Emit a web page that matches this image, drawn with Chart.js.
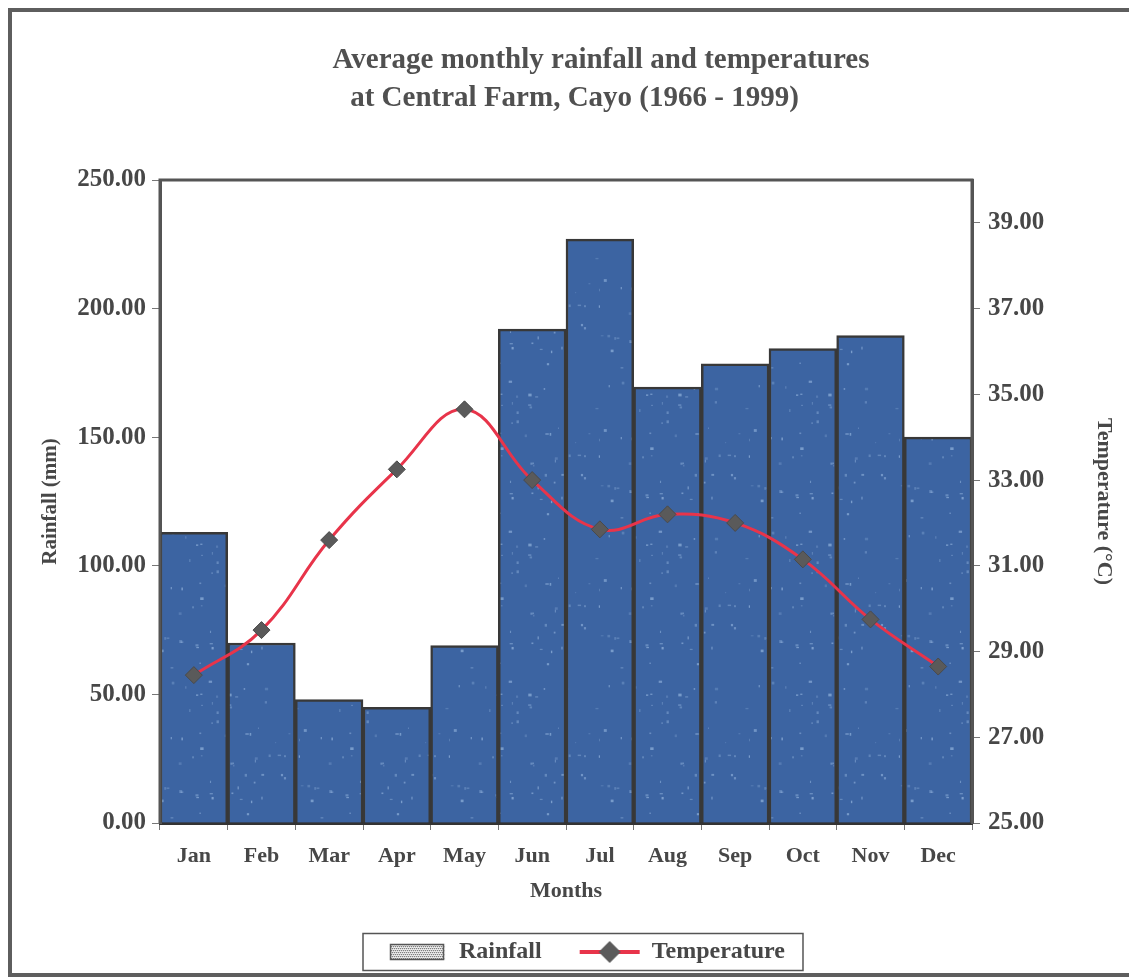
<!DOCTYPE html>
<html>
<head>
<meta charset="utf-8">
<script src="https://cdn.jsdelivr.net/npm/chart.js@4.4.0/dist/chart.umd.min.js"></script>
<style>
  html, body { margin: 0; padding: 0; background: #fff; }
  #wrap { width: 1129px; height: 980px; position: relative; }
</style>
</head>
<body>
<div id="wrap"><canvas id="c" width="1129" height="980"></canvas></div>
<script>
// Monthly climate normals, Central Farm, Cayo (1966 - 1999)
const months = ['Jan', 'Feb', 'Mar', 'Apr', 'May', 'Jun', 'Jul', 'Aug', 'Sep', 'Oct', 'Nov', 'Dec'];
const rainfall = [113, 70, 48, 45, 69, 192, 227, 169.5, 178.5, 184.5, 189.5, 150];      // mm
const temperature = [28.45, 29.5, 31.6, 33.25, 34.65, 33.0, 31.85, 32.2, 32.0, 31.15, 29.75, 28.65]; // °C
const rainTicks = [0, 50, 100, 150, 200, 250];
const tempTicks = [25, 27, 29, 31, 33, 35, 37, 39];

const serif = 'Liberation Serif, Times New Roman, serif';
const textColor = '#474747';

// speckled blue fill for the rainfall bars
function speckledFill() {
  const c = document.createElement('canvas');
  c.width = 150; c.height = 150;
  const g = c.getContext('2d');
  g.fillStyle = '#3c64a2';
  g.fillRect(0, 0, 150, 150);
  let s = 12345;
  const next = () => { s = (s * 16807) % 2147483647; return s / 2147483647; };
  for (let i = 0; i < 70; i++) {
    g.fillStyle = 'rgba(175,205,240,' + (0.2 + next() * 0.35).toFixed(2) + ')';
    g.fillRect(next() * 150, next() * 150, 1 + next() * 2.5, 1 + next() * 2);
  }
  return g.createPattern(c, 'repeat');
}

// legend symbol: hatched grey swatch
function rainSwatch() {
  const c = document.createElement('canvas');
  c.width = 60; c.height = 18;
  const g = c.getContext('2d');
  g.fillStyle = '#ffffff';
  g.fillRect(3, 1, 54, 16);
  for (let y = 1; y < 17; y += 2) {
    for (let x = 3 + (y % 4 === 1 ? 0 : 1); x < 57; x += 2) {
      g.fillStyle = '#7a7a7a';
      g.fillRect(x, y, 1.3, 1.3);
    }
  }
  g.strokeStyle = '#555';
  g.lineWidth = 1.5;
  g.strokeRect(3.5, 1.5, 53, 15);
  return c;
}

// legend symbol: red line with grey diamond
function tempSymbol() {
  const c = document.createElement('canvas');
  c.width = 64; c.height = 24;
  const g = c.getContext('2d');
  g.strokeStyle = '#e8344a';
  g.lineWidth = 4;
  g.beginPath(); g.moveTo(2, 12); g.lineTo(62, 12); g.stroke();
  g.fillStyle = '#5b5b5b';
  g.beginPath();
  g.moveTo(32, 1); g.lineTo(43, 12); g.lineTo(32, 23); g.lineTo(21, 12); g.closePath();
  g.fill();
  return c;
}

const pageFrame = {
  id: 'pageFrame',
  beforeDraw(chart) {
    const ctx = chart.ctx;
    ctx.save();
    ctx.fillStyle = '#ffffff';
    ctx.fillRect(0, 0, chart.width, chart.height);
    ctx.strokeStyle = '#5e5e5e';
    ctx.lineWidth = 4;
    ctx.strokeRect(10, 10, chart.width + 20, 965);
    ctx.restore();
  },
  afterLayout(chart) {
    // shift the centred title lines and legend block to the right
    const t = chart.titleBlock;
    if (t) { t.left = 2 * 601 - t.right; }
    const st = chart.subtitleBlock;
    if (st) { st.left = 2 * 584 - st.right; }
    const l = chart.legend;
    if (l) { l.left = 2 * 586 - l.right; }
  },
  afterDatasetsDraw(chart) {
    const { ctx, chartArea: a } = chart;
    ctx.save();
    ctx.strokeStyle = '#555';
    ctx.lineWidth = 3;
    ctx.beginPath();
    ctx.moveTo(a.left, a.bottom);
    ctx.lineTo(a.left, a.top);
    ctx.lineTo(a.right, a.top);
    ctx.lineTo(a.right, a.bottom);
    ctx.stroke();
    ctx.restore();
  },
  afterDraw(chart) {
    const hb = chart.legend && chart.legend.legendHitBoxes;
    if (!hb || hb.length < 2) return;
    const ctx = chart.ctx;
    const cy = hb[0].top + hb[0].height / 2;
    const left = hb[0].left - 24;
    const right = hb[1].left + hb[1].width + 18;
    ctx.save();
    ctx.strokeStyle = '#555';
    ctx.lineWidth = 1.5;
    ctx.strokeRect(left, cy - 18.5, right - left, 37);
    ctx.restore();
  }
};

const tickFont = { family: serif, weight: 'bold', size: 25 };
const titleFont = { family: serif, weight: 'bold', size: 29, lineHeight: 1.3 };

new Chart(document.getElementById('c'), {
  data: {
    labels: months,
    datasets: [
      {
        type: 'line',
        label: 'Temperature',
        data: temperature,
        yAxisID: 'y1',
        order: 1,
        borderColor: '#e8344a',
        borderWidth: 3,
        tension: 0.4,
        pointStyle: 'rectRot',
        pointRadius: 8.5,
        pointBackgroundColor: '#5a5a5a',
        pointBorderColor: '#4a4a4a',
        pointBorderWidth: 1
      },
      {
        type: 'bar',
        label: 'Rainfall',
        data: rainfall,
        yAxisID: 'y',
        order: 2,
        backgroundColor: speckledFill(),
        borderColor: '#383838',
        borderWidth: 2.5,
        barPercentage: 1,
        categoryPercentage: 1
      }
    ]
  },
  options: {
    responsive: false,
    animation: false,
    devicePixelRatio: 1,
    layout: { padding: { left: 28, right: 8, top: 0, bottom: 6 } },
    plugins: {
      tooltip: { enabled: false },
      title: {
        display: true,
        text: 'Average monthly rainfall and temperatures',
        color: '#505050',
        font: titleFont,
        padding: { top: 42, bottom: 0 }
      },
      subtitle: {
        display: true,
        text: 'at Central Farm, Cayo (1966 - 1999)',
        color: '#505050',
        font: titleFont,
        padding: { top: 0, bottom: 62.6 }
      },
      legend: {
        display: true,
        position: 'bottom',
        labels: {
          usePointStyle: true,
          pointStyleWidth: 60,
          padding: 38,
          color: textColor,
          font: { family: serif, weight: 'bold', size: 24 },
          generateLabels() {
            return [
              { text: 'Rainfall', pointStyle: rainSwatch(), datasetIndex: 1, hidden: false, lineWidth: 0, fontColor: textColor },
              { text: 'Temperature', pointStyle: tempSymbol(), datasetIndex: 0, hidden: false, lineWidth: 0, fontColor: textColor }
            ];
          }
        }
      }
    },
    scales: {
      x: {
        afterFit(scale) { scale.height = 79; },
        grid: { offset: true, drawOnChartArea: false, tickLength: 7, color: '#777' },
        border: { color: '#333', width: 3 },
        ticks: { font: { family: serif, weight: 'bold', size: 22 }, color: textColor, padding: 13 },
        title: {
          display: true, text: 'Months', color: textColor,
          font: { family: serif, weight: 'bold', size: 22, lineHeight: 1.0 },
          padding: { top: 0, bottom: 0 }
        }
      },
      y: {
        position: 'left',
        min: 0, max: 250,
        afterBuildTicks(scale) { scale.ticks = rainTicks.map(v => ({ value: v })); },
        afterFit(scale) { scale.width = 132; },
        grid: { drawOnChartArea: false, tickLength: 8, color: '#777' },
        border: { color: '#555', width: 3 },
        ticks: { font: tickFont, color: textColor, padding: 6, callback: v => Number(v).toFixed(2) },
        title: {
          display: true, text: 'Rainfall (mm)', color: textColor,
          font: { family: serif, weight: 'bold', size: 21 },
          padding: { top: 10, bottom: 0 }
        }
      },
      y1: {
        position: 'right',
        min: 25, max: 40,
        afterBuildTicks(scale) { scale.ticks = tempTicks.map(v => ({ value: v })); },
        afterFit(scale) { scale.width = 149; },
        grid: { drawOnChartArea: false, tickLength: 8, color: '#777' },
        border: { color: '#555', width: 3 },
        ticks: { font: tickFont, color: textColor, padding: 8, callback: v => Number(v).toFixed(2) },
        title: {
          display: true, text: 'Temperature (°C)', color: textColor,
          font: { family: serif, weight: 'bold', size: 22 },
          padding: { top: 4, bottom: 0 }
        }
      }
    }
  },
  plugins: [pageFrame]
});
</script>
</body>
</html>
